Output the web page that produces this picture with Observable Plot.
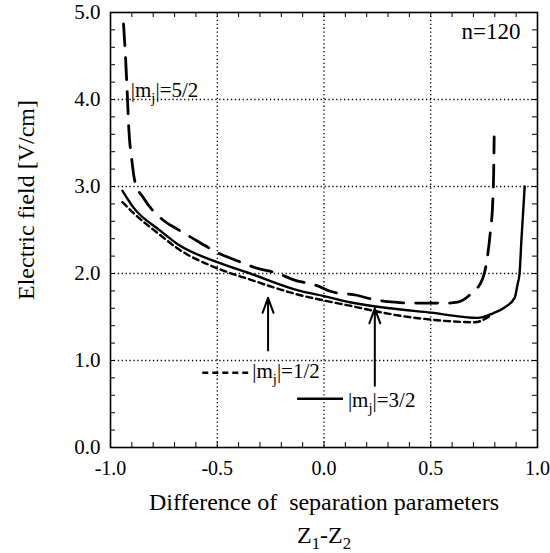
<!DOCTYPE html>
<html><head><meta charset="utf-8">
<script src="https://cdn.jsdelivr.net/npm/d3@7"></script>
<script src="https://cdn.jsdelivr.net/npm/@observablehq/plot@0.6"></script>
<style>body{margin:0;background:#fff}</style>
</head><body><div id="chart"></div>
<script>
// |mj|=1/2 (short dashed)
const mj12X = [-0.944,-0.89,-0.766,-0.687,-0.5,-0.346,-0.11,0,0.121,0.33,0.5,0.706,0.776];
const mj12Y = [2.82,2.69,2.44,2.29,2.06,1.93,1.75,1.69,1.63,1.525,1.47,1.44,1.51];
// |mj|=3/2 (solid)
const mj32X = [-0.944,-0.893,-0.766,-0.687,-0.5,-0.346,-0.112,0,0.121,0.308,0.5,0.72,0.79,0.846,0.893,0.907,0.916,0.925,0.94];
const mj32Y = [2.95,2.76,2.49,2.34,2.13,2.0,1.80,1.74,1.67,1.60,1.55,1.49,1.54,1.61,1.72,1.88,2.0,2.4,3.0];
// |mj|=5/2 (long dashed)
const mj52X = [-0.939,-0.93,-0.922,-0.915,-0.9,-0.885,-0.846,-0.757,-0.687,-0.584,-0.5,-0.4,-0.313,-0.215,-0.145,-0.033,0.037,0.154,0.215,0.33,0.4,0.51,0.584,0.626,0.69,0.743,0.766,0.78,0.79,0.795,0.797];
const mj52Y = [4.87,4.5,4.1,3.7,3.3,3.05,2.87,2.62,2.51,2.36,2.24,2.14,2.06,2.0,1.93,1.86,1.79,1.75,1.71,1.67,1.66,1.66,1.66,1.67,1.77,1.94,2.2,2.5,2.8,3.2,3.57];

const xTicks = [-1.0,-0.5,0.0,0.5,1.0];
const yTicks = [0,1,2,3,4,5];
const xMinor = [-0.9,-0.8,-0.7,-0.6,-0.5,-0.4,-0.3,-0.2,-0.1,0,0.1,0.2,0.3,0.4,0.5,0.6,0.7,0.8,0.9];
const yMinor = [0.2,0.4,0.6,0.8,1,1.2,1.4,1.6,1.8,2,2.2,2.4,2.6,2.8,3,3.2,3.4,3.6,3.8,4,4.2,4.4,4.6,4.8];
const xGrid = [-0.5,0,0.5];
const yGrid = [1,2,3,4];

const yLabel = "Electric field [V/cm]";
const xLabel1 = "Difference of  separation parameters";
const xLabel2 = "Z_1-Z_2";

const notes = [
  {x: -0.905, y: 4.03, text: "|m_j|=5/2"},
  {x: -0.336, y: 0.80, text: "|m_j|=1/2"},
  {x: 0.112, y: 0.47, text: "|m_j|=3/2"}
];
const nLabel = [{x: 0.92, y: 4.7, text: "n=120"}];
const arrows = [
  {x1: -0.262, y1: 1.115, x2: -0.262, y2: 1.72},
  {x1: 0.238, y1: 0.71, x2: 0.238, y2: 1.6}
];
const legendDash = [{x1: -0.57, x2: -0.355, y: 0.86}];
const legendSolid = [{x1: -0.126, x2: 0.089, y: 0.56}];

const toXY = (X, Y) => X.map((x, i) => ({x, y: Y[i]}));

const W = 550, H = 553, mt = 12, mr = 13, mb = 106, ml = 110;
const fh = H - mt - mb, fw = W - ml - mr;

const fmt = d => d.toFixed(1);

const plot = Plot.plot({
  width: W, height: H,
  marginTop: mt, marginRight: mr, marginBottom: mb, marginLeft: ml,
  style: {fontFamily: "'Liberation Serif', 'Times New Roman', serif", fontSize: "21px", background: "#fff", color: "#000"},
  x: {domain: [-1, 1]},
  y: {domain: [0, 5]},
  marks: [
    Plot.ruleX(xGrid, {x: d => d, stroke: "#000", strokeWidth: 1.3, strokeDasharray: "1.3,2.6"}),
    Plot.ruleY(yGrid, {y: d => d, stroke: "#000", strokeWidth: 1.3, strokeDasharray: "1.3,2.6"}),
    Plot.tickX(xMinor, {x: d => d, insetTop: fh - 5, stroke: "#000", strokeWidth: 1}),
    Plot.tickX(xMinor, {x: d => d, insetBottom: fh - 5, stroke: "#000", strokeWidth: 1}),
    Plot.tickY(yMinor, {y: d => d, insetRight: fw - 5, stroke: "#000", strokeWidth: 1}),
    Plot.tickY(yMinor, {y: d => d, insetLeft: fw - 5, stroke: "#000", strokeWidth: 1}),
    Plot.frame({stroke: "#000", strokeWidth: 1.6}),
    Plot.axisX({ticks: xTicks, tickFormat: fmt, tickSize: 0, tickPadding: 13, fontSize: 20, label: null}),
    Plot.axisY({ticks: yTicks, tickFormat: fmt, tickSize: 0, tickPadding: 10, fontSize: 21, label: null}),
    Plot.line(toXY(mj12X, mj12Y), {x: "x", y: "y", stroke: "#000", strokeWidth: 2.4, strokeDasharray: "6,4", curve: "monotone-x"}),
    Plot.line(toXY(mj32X, mj32Y), {x: "x", y: "y", stroke: "#000", strokeWidth: 2.4, curve: "monotone-x"}),
    Plot.line(toXY(mj52X, mj52Y), {x: "x", y: "y", stroke: "#000", strokeWidth: 2.8, strokeDasharray: "22,12", curve: "monotone-x"}),
    Plot.arrow(arrows, {x1: "x1", y1: "y1", x2: "x2", y2: "y2", stroke: "#000", strokeWidth: 2, headLength: 12, headAngle: 40}),
    Plot.link(legendDash, {x1: "x1", x2: "x2", y1: "y", y2: "y", stroke: "#000", strokeWidth: 2.4, strokeDasharray: "6,4"}),
    Plot.link(legendSolid, {x1: "x1", x2: "x2", y1: "y", y2: "y", stroke: "#000", strokeWidth: 2.4}),
    Plot.text(notes, {x: "x", y: "y", text: "text", textAnchor: "start", lineAnchor: "bottom", fontSize: 21, fill: "#000"}),
    Plot.text(nLabel, {x: "x", y: "y", text: "text", textAnchor: "end", lineAnchor: "bottom", fontSize: 23, fill: "#000"}),
    Plot.text([yLabel], {text: d => d, frameAnchor: "left", textAnchor: "middle", rotate: -90, dx: -77, dy: -30, lineAnchor: "bottom", fontSize: 24, fill: "#000"}),
    Plot.text([xLabel1], {text: d => d, frameAnchor: "bottom", textAnchor: "middle", dy: 62, lineAnchor: "bottom", fontSize: 24, fill: "#000"}),
    Plot.text([xLabel2], {text: d => d, frameAnchor: "bottom", textAnchor: "middle", dy: 95, lineAnchor: "bottom", fontSize: 24, fill: "#000"})
  ]
});

function subscriptify(svg) {
  svg.querySelectorAll("text").forEach(t => {
    const s = t.textContent;
    if (!s.includes("_")) return;
    t.textContent = "";
    const parts = s.split(/_(.)/);
    parts.forEach((p, i) => {
      if (!p) return;
      const ts = document.createElementNS("http://www.w3.org/2000/svg", "tspan");
      ts.textContent = p;
      ts.setAttribute("fill", "#000");
      if (i % 2 === 1) { ts.setAttribute("dy", "0.4em"); ts.setAttribute("font-size", "0.7em"); }
      else if (i > 0) ts.setAttribute("dy", "-0.28em");
      t.appendChild(ts);
    });
  });
}
subscriptify(plot);
document.getElementById("chart").appendChild(plot);
</script>
</body></html>
